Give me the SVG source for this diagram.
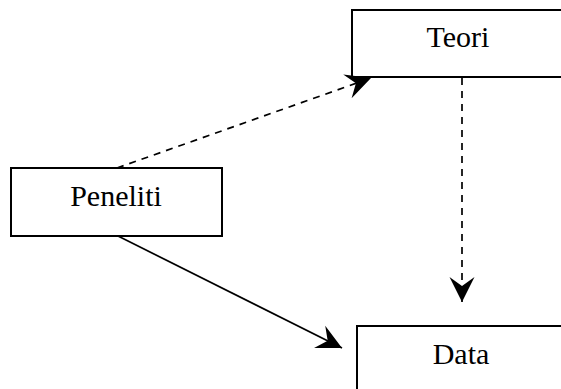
<svg xmlns="http://www.w3.org/2000/svg" width="561" height="389" viewBox="0 0 561 389">
<style>
.box{fill:#fff;stroke:#000;stroke-width:2}
.lbl{font-family:"Liberation Serif","Times New Roman",serif;font-size:30px;fill:#000;text-anchor:middle}
.con{fill:none;stroke:#000;stroke-width:1.7}
.dash{stroke-dasharray:7 6}
</style>
<defs>
<marker id="arr" viewBox="-25 -14 26 28" markerWidth="26" markerHeight="28" refX="0" refY="0" markerUnits="userSpaceOnUse" orient="auto">
<path d="M0,0 L-25,-12.5 L-16,0 L-25,12.5 Z" fill="#000"/>
</marker>
</defs>
<rect width="561" height="389" fill="#fff"/>
<g id="teori"><rect class="box" x="352" y="10" width="220" height="67"/><text class="lbl" x="458" y="47">Teori</text></g>
<g id="peneliti"><rect class="box" x="11" y="168" width="211" height="68"/><text class="lbl" x="116" y="206">Peneliti</text></g>
<g id="data"><rect class="box" x="357" y="326" width="220" height="80"/><text class="lbl" x="461" y="364">Data</text></g>
<g id="connectors">
<line class="con dash" x1="117" y1="168" x2="371" y2="78" marker-end="url(#arr)"/>
<line class="con dash" x1="462" y1="78" x2="462" y2="302" marker-end="url(#arr)"/>
<line class="con" x1="118" y1="236" x2="342" y2="348" marker-end="url(#arr)"/>
</g>
</svg>
